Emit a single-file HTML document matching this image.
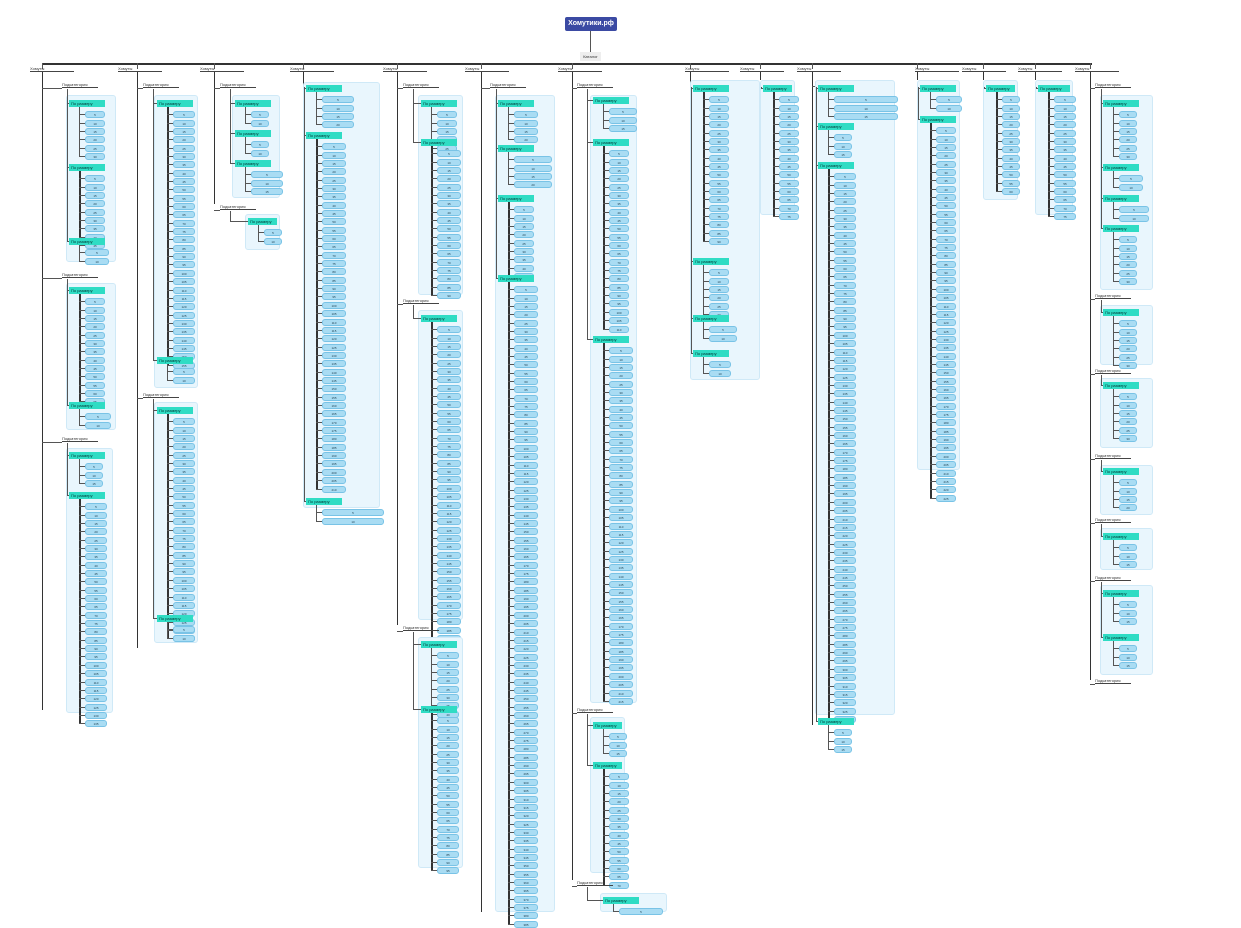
<!DOCTYPE html>
<html><head><meta charset="utf-8">
<style>
body{margin:0;width:1241px;height:912px;overflow:hidden;background:#fff;position:relative;font-family:"Liberation Sans","Noto Sans CJK SC",sans-serif}
div{position:absolute;box-sizing:border-box}
.p{background:#e9f6fd;border:1px solid #cfe9f7;border-radius:3px}
.h{background:#2fdcc4;height:7px;font-size:4px;line-height:7px;color:#033;padding-left:2px;white-space:nowrap;overflow:hidden}
.q{background:#a9dcf3;border:1px solid #79c3e6;height:7px;border-radius:3px;font-size:3px;line-height:6px;color:#245;text-align:center;overflow:hidden}
.l{background:#555}
.t{font-size:4px;color:#333;white-space:nowrap;border-bottom:1px solid #444;height:6px;line-height:5px}
</style></head><body>
<div style="left:565px;top:17px;width:52px;height:14px;background:#3b4aa3;border-radius:2px;color:#fff;font-size:7px;font-weight:bold;line-height:14px;text-align:center">Хомутики.рф</div>
<div class="l" style="left:590px;top:31px;width:1px;height:21px"></div>
<div style="left:580px;top:52px;width:21px;height:9px;background:#eee;font-size:4px;line-height:9px;text-align:center;color:#333">Каталог</div>
<div class="l" style="left:42px;top:63px;width:1050px;height:2px;background:#333"></div>
<script>
function D(c,x,y,w,h,t){var d=document.createElement('div');d.className=c;d.style.cssText='left:'+x+'px;top:'+y+'px;width:'+w+'px;'+(h?'height:'+h+'px;':'');if(t)d.textContent=t;document.body.appendChild(d);return d}
function L(x,y,w,h,col){var d=D('l',x,y,w,h);if(col)d.style.background=col}
var S=8.35;
function sec(hx,hy,hw,n,pw){D('h',hx,hy,hw,7,'По размеру');var sx=hx+10,y0=hy+7+S*0.5;
 if(n>0){L(sx,hy+7,n>8?2:1,S*(n-1)+S*0.5+4,n>8?'#333':'#555');
 for(var i=0;i<n;i++){var y=y0+i*S;L(sx,y+3,6,1);D('q',sx+6,y,(pw||16)+4,7,(i+1)*5+'')}}}
var C=[
[30,42,710,[[82,62,[66,95,50,167],[[100,6,16],[164,9,16],[238,2,20]]],[272,62,[66,283,50,147],[[287,13,16],[402,2,22]]],[436,62,[66,448,47,265],[[452,3,14],[492,27,18]]]]],
[118,137,648,[[82,143,[154,95,44,293],[[100,31,18],[357,2,18]]],[392,143,[154,402,44,241],[[407,27,18],[615,2,18]]]]],
[200,214,204,[[82,220,[232,95,48,103],[[100,2,14],[130,2,14],[160,3,28]]],[204,220,[245,214,35,36],[[218,2,14]]]]],
[290,303,505,[[80,303,[303,82,77,426],[[85,4,28],[132,42,20],[498,2,58]]]]],
[383,397,625,[[82,403,[418,95,45,200],[[100,5,16],[139,18,20]]],[298,403,[418,310,45,310],[[315,38,20]]],[625,403,[418,637,45,231],[[641,8,18],[706,19,18]]]]],
[465,481,912,[[82,490,[495,95,60,817],[[100,4,20],[145,4,34],[195,9,16],[275,77,20]]]]],
[558,572,880,[[82,577,[590,95,47,608],[[97,3,24],[139,22,16],[336,43,20]]],[707,577,[590,717,35,156],[[722,3,14],[762,14,16]]],[880,577,[600,893,67,19],[[897,1,40]]]]],
[685,690,355,[[80,690,[690,80,70,300],[[85,18,16],[258,6,16],[315,2,24],[350,2,18]]]]],
[740,760,80,[[80,760,[760,80,35,135],[[85,15,16]]]]],
[797,812,725,[[80,815,[815,80,80,635],[[85,3,60],[123,3,14],[162,66,18],[718,3,14]]]]],
[915,917,80,[[80,917,[917,80,43,390],[[85,2,22],[116,45,16]]]]],
[962,983,80,[[80,983,[983,80,35,120],[[85,12,14]]]]],
[1018,1035,80,[[80,1035,[1035,80,38,135],[[85,15,18]]]]],
[1075,1090,680,[[82,1095,[1100,95,53,195],[[100,6,14],[164,2,20],[195,2,26],[225,6,14]]],[293,1095,[1100,305,53,60],[[309,6,14]]],[368,1095,[1100,378,53,70],[[382,6,14]]],[453,1095,[1100,465,53,50],[[468,4,14]]],[517,1095,[1100,528,53,42],[[533,3,14]]],[575,1095,[1100,585,53,90],[[590,3,14],[634,3,14]]],[678,1095,null,[]]]]
];
C.forEach(function(c){L(c[1],63,1,6);D('t',c[0],66,44,0,'Хомуты');L(c[1],72,1,c[2]-72,'#333');
 c[3].forEach(function(s){if(c[3].length>1||s[1]!=c[1]){L(c[1],s[0]+6,s[1]-c[1],1);D('t',s[1],s[0],36,0,'Подкатегория');}
  if(!s[2])return;var p=s[2];D('p',p[0],p[1],p[2],p[3]);
  var hx=p[0]+3;var ls=s[1]+10>hx-2?hx-2:s[1]+10;
  var last=s[3][s[3].length-1][0];L(ls,s[0]+7,1,last-s[0]-3);
  s[3].forEach(function(z){L(ls,z[0]+3,hx-ls,1);sec(hx,z[0],Math.min(p[2]-6,36),z[1],z[2])})})});
</script>
</body></html>
